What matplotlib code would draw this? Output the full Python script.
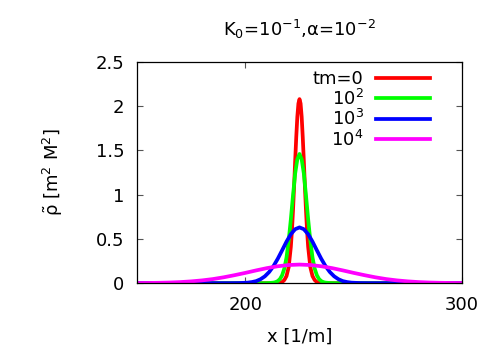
import numpy as np
import matplotlib
matplotlib.use('Agg')
import matplotlib.pyplot as plt

# curve samples (peak near x = 225)
x_red = [150, 214, 215, 216, 217, 218, 219, 220, 221, 221.5, 222, 222.5, 223, 223.5, 224, 224.5,
         225, 225.5, 226, 226.5, 227, 227.5, 228, 228.5, 229, 230, 231, 232, 233, 234, 235, 236, 300]
y_red = [0, 0, 0.001, 0.004, 0.013, 0.035, 0.08, 0.18, 0.41, 0.59, 0.82, 1.09, 1.38, 1.65, 1.88, 2.03,
         2.08, 2.03, 1.88, 1.65, 1.38, 1.09, 0.82, 0.59, 0.41, 0.18, 0.08, 0.035, 0.013, 0.004, 0.001, 0, 0]

x_green = [150, 209, 211, 213, 214, 215, 216, 217, 218, 219, 220, 221, 222, 223, 224,
           225, 226, 227, 228, 229, 230, 231, 232, 233, 234, 235, 236, 237, 239, 241, 300]
y_green = [0, 0, 0.0015, 0.006, 0.012, 0.024, 0.047, 0.09, 0.165, 0.29, 0.48, 0.72, 0.99, 1.24, 1.40,
           1.46, 1.40, 1.24, 0.99, 0.72, 0.48, 0.29, 0.165, 0.09, 0.047, 0.024, 0.012, 0.006, 0.0015, 0, 0]

x_blue = [150, 193, 197, 201, 203, 205, 207, 209, 211, 213, 215, 217, 219, 221, 223,
          225, 227, 229, 231, 233, 235, 237, 239, 241, 243, 245, 247, 249, 253, 257, 300]
y_blue = [0, 0, 0.001, 0.0055, 0.012, 0.023, 0.044, 0.077, 0.126, 0.193, 0.277, 0.372, 0.469, 0.553, 0.61,
          0.63, 0.61, 0.553, 0.469, 0.372, 0.277, 0.193, 0.126, 0.077, 0.044, 0.023, 0.012, 0.0055, 0.001, 0, 0]

x_mag = [150, 155, 160, 165, 170, 175, 180, 185, 190, 195, 200, 205, 210, 215, 220,
         225, 230, 235, 240, 245, 250, 255, 260, 265, 270, 275, 280, 285, 290, 295, 300]
y_mag = [0.001, 0.002, 0.004, 0.007, 0.012, 0.020, 0.031, 0.046, 0.066, 0.090, 0.116, 0.144, 0.170, 0.191, 0.205,
         0.21, 0.205, 0.191, 0.170, 0.144, 0.116, 0.090, 0.066, 0.046, 0.031, 0.020, 0.012, 0.007, 0.004, 0.002, 0.001]

labels = ['tm=0', '10$^2$', '10$^3$', '10$^4$']
colors = ['#ff0000', '#00ff00', '#0000ff', '#ff00ff']
yticks = [0, 0.5, 1, 1.5, 2, 2.5]
yticklabels = ['0', '0.5', '1', '1.5', '2', '2.5']

plt.rcParams['font.family'] = ['DejaVu Sans']
plt.rcParams['mathtext.default'] = 'regular'
plt.rcParams['font.size'] = 13

fig = plt.figure(figsize=(5, 3.5), dpi=100)
ax = fig.add_axes([0.274, 0.191, 0.65, 0.632])

series = [(x_red, y_red), (x_green, y_green), (x_blue, y_blue), (x_mag, y_mag)]
for (xs, ys), lab, c in zip(series, labels, colors):
    ax.plot(xs, ys, color=c, lw=2.7, label=lab)

ax.set_xlim(150, 300)
ax.set_ylim(0, 2.5)
ax.set_xticks([200, 300])
ax.set_yticks(yticks)
ax.set_yticklabels(yticklabels)
ax.tick_params(direction='in', length=4, width=0.8, color='#555555',
               top=True, right=True, pad=9, labelsize=13)
for s in ax.spines.values():
    s.set_linewidth(0.9)

ax.set_xlabel('x [1/m]', labelpad=10)
ax.set_ylabel(r'$\tilde{ρ}$ [m$^2$ M$^2$]', labelpad=22)
ax.set_title('K$_0$=10$^{-1}$,α=10$^{-2}$', pad=19, fontsize=13)

leg = ax.legend(loc='upper right', markerfirst=False, frameon=False,
                handlelength=3.0, handletextpad=0.7, labelspacing=0.02,
                borderaxespad=0.0, bbox_to_anchor=(0.925, 0.995))
# right-align the legend rows (gnuplot style)
for col in leg._legend_handle_box.get_children():
    col.align = 'right'

fig.savefig('out.png', dpi=100)
